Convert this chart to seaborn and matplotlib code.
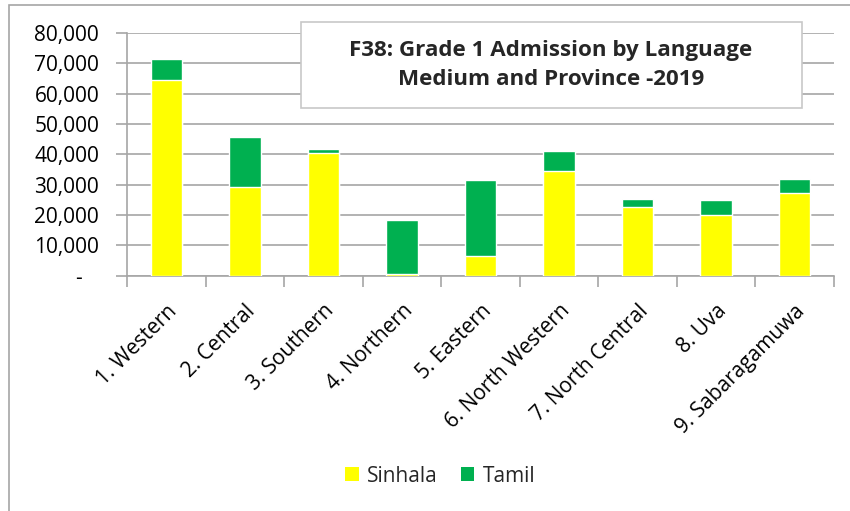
import matplotlib
matplotlib.use("Agg")
import matplotlib.pyplot as plt
import matplotlib.ticker as mticker
from matplotlib.patches import Rectangle, Patch
import seaborn as sns
import pandas as pd

# Grade 1 admissions by language medium, per province (2019)
provinces = ["1. Western", "2. Central", "3. Southern", "4. Northern", "5. Eastern",
             "6. North Western", "7. North Central", "8. Uva", "9. Sabaragamuwa"]
sinhala = [64400, 29050, 40400, 400, 6500, 34550, 22550, 19900, 27300]
tamil = [7100, 16600, 1200, 17800, 24900, 6500, 2850, 4850, 4700]
yticks = [0, 10000, 20000, 30000, 40000, 50000, 60000, 70000, 80000]

df = pd.DataFrame({"province": provinces, "Sinhala": sinhala, "Tamil": tamil})
df["total"] = df["Sinhala"] + df["Tamil"]

sns.set_theme(style="white")
plt.rcParams["font.family"] = ["Open Sans", "DejaVu Sans"]

yellow = "#FFFF00"
green = "#00B050"
grid_c = "#A6A6A6"
fs = 15

fig = plt.figure(figsize=(8.5, 5.11), dpi=100)
ax = fig.add_axes([127 / 850, 1 - 275.5 / 511, (834 - 127) / 850, (275.5 - 33) / 511])

# stacked bars: full height in green, Sinhala share over it in yellow
sns.barplot(data=df, x="province", y="total", color=green, width=0.4,
            saturation=1, ax=ax, zorder=2)
sns.barplot(data=df, x="province", y="Sinhala", color=yellow, width=0.4,
            saturation=1, ax=ax, zorder=3)

ax.set_xlim(-0.5, len(provinces) - 0.5)
ax.set_ylim(0, 80000)
ax.set_yticks(yticks)
# accounting-style labels: zero shown as a dash, indented
ax.yaxis.set_major_formatter(mticker.FuncFormatter(
    lambda v, p: "-   " if v == 0 else f"{int(v):,}"))
ax.yaxis.grid(True, color=grid_c, linewidth=1.2, zorder=0)
ax.set_axisbelow(True)
ax.set_xlabel("")
ax.set_ylabel("")

for side in ["top", "right"]:
    ax.spines[side].set_visible(False)
for side in ["left", "bottom"]:
    ax.spines[side].set_color(grid_c)
    ax.spines[side].set_linewidth(1.2)

ax.tick_params(axis="y", which="major", left=True, length=8, color=grid_c,
               width=1.2, labelsize=fs, labelcolor="black", pad=12)
ax.set_xticks(range(len(provinces)))
ax.set_xticklabels(provinces, rotation=45, ha="right", rotation_mode="anchor",
                   fontsize=fs, color="black")
ax.tick_params(axis="x", which="major", bottom=False, pad=12)
ax.set_xticks([i - 0.5 for i in range(len(provinces) + 1)], minor=True)
ax.tick_params(axis="x", which="minor", bottom=True, length=8, color=grid_c,
               width=1.2)

# title box
fig.patches.append(Rectangle((301 / 850, 1 - 108 / 511), (802 - 301) / 850, (108 - 22) / 511,
                             transform=fig.transFigure, facecolor="white",
                             edgecolor="#C8C8C8", linewidth=1.2, zorder=5))
fig.text(551 / 850, 1 - 65 / 511,
         "F38: Grade 1 Admission by Language\nMedium and Province -2019",
         ha="center", va="center", fontsize=16.1, fontweight="bold",
         linespacing=1.45, zorder=6)

# chart frame
fig.patches.append(Rectangle((9 / 850, -0.1), 1.0, 1 - 5 / 511 + 0.1,
                             transform=fig.transFigure, facecolor="none",
                             edgecolor="#A6A6A6", linewidth=1.2, zorder=0))

handles = [Patch(facecolor=yellow, edgecolor="none", label="Sinhala"),
           Patch(facecolor=green, edgecolor="none", label="Tamil")]
fig.legend(handles=handles, loc="center", bbox_to_anchor=(440 / 850, 1 - 476 / 511),
           ncol=2, frameon=False, fontsize=fs, handlelength=0.65, handleheight=0.65,
           handletextpad=0.4, columnspacing=1.1)

fig.savefig("out.png", dpi=100)
